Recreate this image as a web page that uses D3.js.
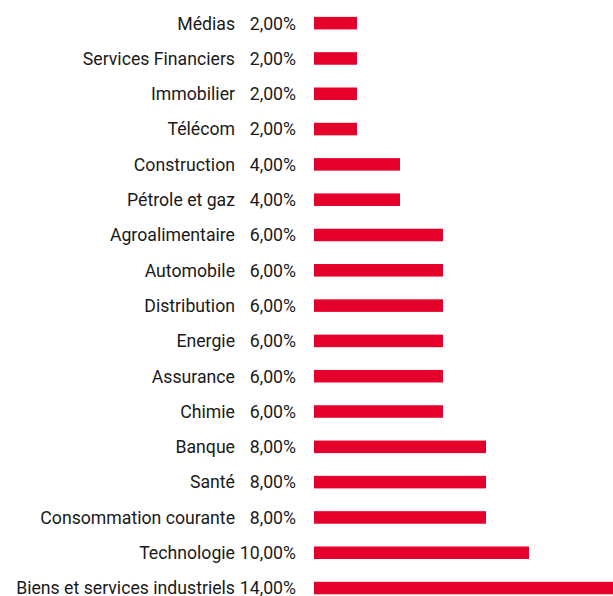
<!DOCTYPE html>
<html><head><meta charset="utf-8">
<script src="https://cdn.jsdelivr.net/npm/d3@7"></script>
<style>html,body{margin:0;padding:0;background:#fff;overflow:hidden}</style>
</head><body>
<svg id="c" width="613" height="596"></svg>
<script>
const categories = ["Médias","Services Financiers","Immobilier","Télécom","Construction","Pétrole et gaz","Agroalimentaire","Automobile","Distribution","Energie","Assurance","Chimie","Banque","Santé","Consommation courante","Technologie","Biens et services industriels"];
const values = [2,2,2,2,4,4,6,6,6,6,6,6,8,8,8,10,14];
const valueLabels = ["2,00%","2,00%","2,00%","2,00%","4,00%","4,00%","6,00%","6,00%","6,00%","6,00%","6,00%","6,00%","8,00%","8,00%","8,00%","10,00%","14,00%"];

const svg = d3.select("#c");
const y = d3.scaleBand().domain(categories).range([5.5, 605.7]).paddingInner(0.645).paddingOuter(0.3225);
const x = d3.scaleLinear().domain([0,14]).range([314,615]);
const font = "Roboto, 'Open Sans', sans-serif";
const data = categories.map((c,i)=>({c, v: values[i], l: valueLabels[i]}));

svg.selectAll("rect.bar").data(data).join("rect")
  .attr("class","bar")
  .attr("x", x(0))
  .attr("y", d=>y(d.c))
  .attr("width", d=>x(d.v)-x(0))
  .attr("height", y.bandwidth())
  .attr("fill","#E4002B");

// calibrate font size so the longest label matches the reference width (~219px)
const probe = svg.append("text").attr("font-family", font).attr("font-size", 16).text(categories[categories.length-1]);
const w16 = probe.node().getComputedTextLength();
probe.remove();
const fs = Math.min(18, 16 * 219 / w16);

svg.selectAll("text.cat").data(data).join("text")
  .attr("class","cat")
  .attr("x", 235)
  .attr("y", d=>y(d.c)+y.bandwidth()/2)
  .attr("dy","0.36em")
  .attr("text-anchor","end")
  .attr("font-family", font)
  .attr("font-size", fs)
  .style("font-variant-ligatures","none")
  .attr("fill","#1a1a1a")
  .text(d=>d.c);

svg.selectAll("text.val").data(data).join("text")
  .attr("class","val")
  .attr("x", 296)
  .attr("y", d=>y(d.c)+y.bandwidth()/2)
  .attr("dy","0.36em")
  .attr("text-anchor","end")
  .attr("font-family", font)
  .attr("font-size", fs)
  .style("font-variant-ligatures","none")
  .attr("fill","#1a1a1a")
  .text(d=>d.l);
</script>
</body></html>
